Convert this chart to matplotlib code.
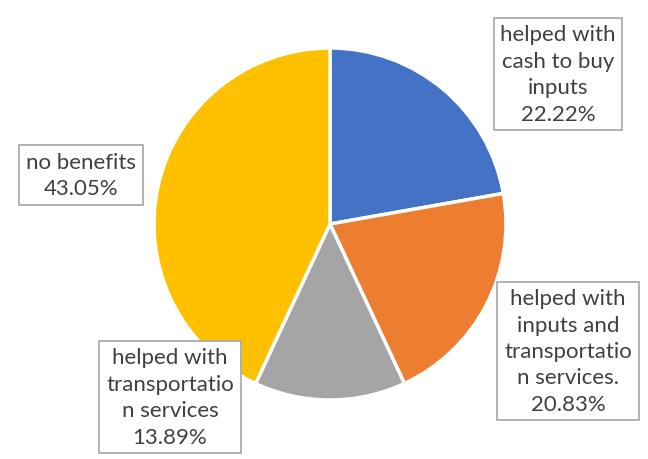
import matplotlib
matplotlib.use("Agg")
import matplotlib.pyplot as plt

categories = ["helped with\ncash to buy\ninputs",
              "helped with\ninputs and\ntransportatio\nn services.",
              "helped with\ntransportatio\nn services",
              "no benefits"]
values = [22.22, 20.83, 13.89, 43.05]
colors = ["#4472C4", "#ED7D31", "#A5A5A5", "#FFC000"]

W, H = 648, 460
fig = plt.figure(figsize=(W / 100, H / 100), dpi=100)
ax = fig.add_axes([0, 0, 1, 1])

ax.pie(values, colors=colors, startangle=90, counterclock=False,
       center=(330, H - 225), radius=176,
       wedgeprops=dict(edgecolor="white", linewidth=2.5))

ax.set_xlim(0, W)
ax.set_ylim(0, H)
ax.set_aspect("equal")
ax.axis("off")

label_pos = [(558, 75), (568, 352), (170, 398), (81, 176)]
for cat, v, (x, y) in zip(categories, values, label_pos):
    ax.text(x, H - y, f"{cat}\n{v:.2f}%", ha="center", va="center",
            fontsize=16, family=["Lato", "DejaVu Sans"], color="#404040",
            linespacing=1.4,
            bbox=dict(boxstyle="square,pad=0.3", facecolor="white",
                      edgecolor="#A6A6A6", linewidth=1.2))

fig.savefig("out.png", dpi=100)
